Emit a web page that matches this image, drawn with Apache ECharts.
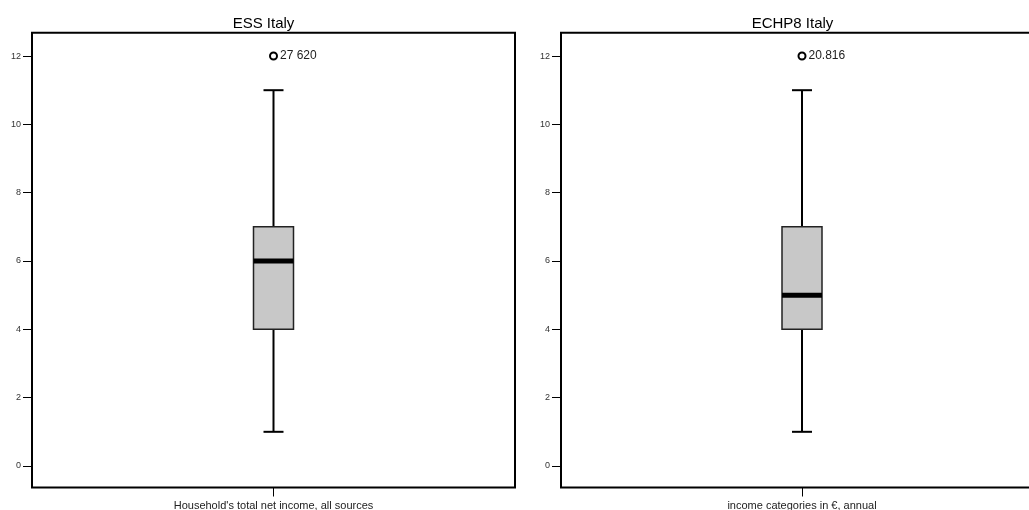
<!DOCTYPE html>
<html>
<head>
<meta charset="utf-8">
<script src="https://cdn.jsdelivr.net/npm/echarts@6/dist/echarts.min.js"></script>
<style>
  html, body { margin: 0; padding: 0; background: #fff; }
  #chart { width: 1029px; height: 510px; }
</style>
</head>
<body>
<div id="chart"></div>
<script>
// ---- data ----
const titles = ["ESS Italy", "ECHP8 Italy"];
const categoriesLeft = ["Household's total net income, all sources"];
const categoriesRight = ["income categories in \u20AC, annual"];
// [min, q1, median, q3, max]
const essBox = [1, 4, 6, 7, 11];
const echpBox = [1, 4, 5, 7, 11];
const essOutliers = [12];
const essOutlierLabels = ["27 620"];
const echpOutliers = [12];
const echpOutlierLabels = ["20.816"];
const yTicks = [0, 2, 4, 6, 8, 10, 12];

const chart = echarts.init(document.getElementById('chart'), null, { renderer: 'canvas' });

const FONT = 'Arial, "Liberation Sans", Helvetica, sans-serif';

function renderBox(params, api) {
  const xi = api.value(0);
  const cx = api.coord([xi, 0])[0];
  const y = v => api.coord([xi, v])[1];
  const yMin = y(api.value(1)), yQ1 = y(api.value(2)), yMed = y(api.value(3)),
        yQ3 = y(api.value(4)), yMax = y(api.value(5));
  const bw = 40, cw = 20;
  const lineStyle = { stroke: '#000', lineWidth: 2 };
  return {
    type: 'group',
    children: [
      { type: 'line', shape: { x1: cx, y1: yMax, x2: cx, y2: yQ3 }, style: lineStyle },
      { type: 'line', shape: { x1: cx, y1: yQ1, x2: cx, y2: yMin }, style: lineStyle },
      { type: 'line', shape: { x1: cx - cw / 2, y1: yMax, x2: cx + cw / 2, y2: yMax }, style: lineStyle },
      { type: 'line', shape: { x1: cx - cw / 2, y1: yMin, x2: cx + cw / 2, y2: yMin }, style: lineStyle },
      { type: 'rect', shape: { x: cx - bw / 2, y: yQ3, width: bw, height: yQ1 - yQ3 },
        style: { fill: '#c8c8c8', stroke: '#222', lineWidth: 1.5 } },
      { type: 'line', shape: { x1: cx - bw / 2, y1: yMed, x2: cx + bw / 2, y2: yMed },
        style: { stroke: '#000', lineWidth: 5 } }
    ]
  };
}

function yAxisCfg(gi) {
  return {
    type: 'value', gridIndex: gi, min: -0.63, max: 12.68,
    splitLine: { show: false },
    axisLine: { show: false, onZero: false },
    axisTick: { show: true, length: 9, lineStyle: { color: '#000', width: 1 }, customValues: yTicks },
    axisLabel: { show: true, fontSize: 9, color: '#333', fontFamily: FONT, margin: 11, customValues: yTicks }
  };
}
function xAxisCfg(gi, cats) {
  return {
    type: 'category', gridIndex: gi, data: cats, position: 'bottom',
    axisLine: { show: false, onZero: false },
    axisTick: { show: true, alignWithLabel: true, length: 9, lineStyle: { color: '#000', width: 1 } },
    axisLabel: { fontSize: 11, color: '#222', fontFamily: FONT, margin: 13 },
    splitLine: { show: false }
  };
}

function outlierSeries(gi, vals, labels) {
  return {
    type: 'scatter', xAxisIndex: gi, yAxisIndex: gi,
    data: vals.map(v => [0, v]),
    symbol: 'circle', symbolSize: 7,
    itemStyle: { color: '#fff', borderColor: '#000', borderWidth: 2, opacity: 1 },
    label: { show: true, position: 'right', distance: 2, fontSize: 12, color: '#222', fontFamily: FONT,
      formatter: p => labels[p.dataIndex] },
    emphasis: { disabled: true },
    z: 5
  };
}

chart.setOption({
  animation: false,
  backgroundColor: '#fff',
  graphic: [
    { type: 'text', x: 263.5, y: 23.5, silent: true,
      style: { text: titles[0], align: 'center', verticalAlign: 'middle', fill: '#000',
        font: '15px ' + FONT } },
    { type: 'text', x: 792.5, y: 23.5, silent: true,
      style: { text: titles[1], align: 'center', verticalAlign: 'middle', fill: '#000',
        font: '15px ' + FONT } }
  ],
  grid: [
    { left: 32, top: 32.8, width: 483, height: 454.7, show: true, borderColor: '#000', borderWidth: 2,
      backgroundColor: 'transparent', outerBoundsMode: 'none' },
    { left: 561, top: 32.8, width: 482, height: 454.7, show: true, borderColor: '#000', borderWidth: 2,
      backgroundColor: 'transparent', outerBoundsMode: 'none' }
  ],
  xAxis: [xAxisCfg(0, categoriesLeft), xAxisCfg(1, categoriesRight)],
  yAxis: [yAxisCfg(0), yAxisCfg(1)],
  series: [
    { type: 'custom', xAxisIndex: 0, yAxisIndex: 0, renderItem: renderBox,
      data: [[0].concat(essBox)], encode: { x: 0, y: [1, 2, 3, 4, 5] }, z: 3 },
    { type: 'custom', xAxisIndex: 1, yAxisIndex: 1, renderItem: renderBox,
      data: [[0].concat(echpBox)], encode: { x: 0, y: [1, 2, 3, 4, 5] }, z: 3 },
    outlierSeries(0, essOutliers, essOutlierLabels),
    outlierSeries(1, echpOutliers, echpOutlierLabels)
  ]
});
</script>
</body>
</html>
